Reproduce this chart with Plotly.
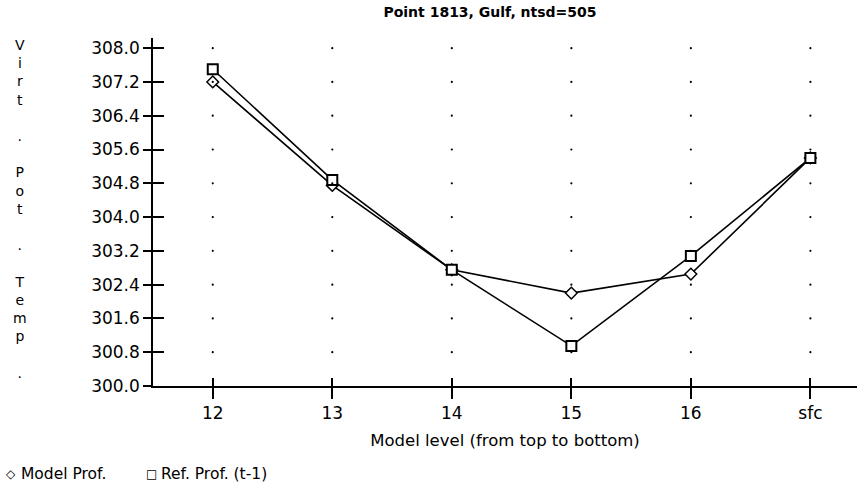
import plotly.graph_objects as go

levels = ["12", "13", "14", "15", "16", "sfc"]
model_prof = [307.2, 304.75, 302.75, 302.2, 302.65, 305.4]
ref_prof = [307.5, 304.88, 302.75, 300.95, 303.08, 305.4]
y_ticks = [300.0, 300.8, 301.6, 302.4, 303.2, 304.0, 304.8, 305.6, 306.4, 307.2, 308.0]
y_label_letters = ["V", "i", "r", "t", " ", ".", " ", "P", "o", "t", " ", ".", " ",
                   "T", "e", "m", "p", " ", "."]
legend_names = ["Model Prof.", "Ref. Prof. (t-1)"]
legend_glyphs = ["\u25c7", "\u25a1"]

FONT = "DejaVu Sans"
YR = [300.0, 308.24]
XR = [-0.5, 5.39]
W, H = 859, 485
ML, MR, MT, MB = 153, 2, 38, 99
PW, PH = W - ML - MR, H - MT - MB


def px(xp):
    return (xp - ML) / PW


def py(yp):
    return (H - MB - yp) / PH


fig = go.Figure()

# dotted grid: dots at tick intersections
gx, gy = [], []
for lv in levels:
    for yv in y_ticks[1:]:
        gx.append(lv)
        gy.append(yv)
fig.add_trace(go.Scatter(x=gx, y=gy, mode="markers", xaxis="x2", yaxis="y2",
                         marker=dict(size=2.2, color="black"), showlegend=False,
                         hoverinfo="skip"))

fig.add_trace(go.Scatter(x=levels, y=model_prof, mode="lines+markers", name=legend_names[0],
                         line=dict(color="black", width=1.6),
                         marker=dict(symbol="diamond", size=9, color="white",
                                     line=dict(color="black", width=1.5)),
                         showlegend=False))
fig.add_trace(go.Scatter(x=levels, y=ref_prof, mode="lines+markers", name=legend_names[1],
                         line=dict(color="black", width=1.6),
                         marker=dict(symbol="square", size=10, color="white",
                                     line=dict(color="black", width=2)),
                         showlegend=False))

axis_common = dict(showgrid=False, zeroline=False, tickcolor="black", tickwidth=1.5)

fig.update_layout(
    width=W, height=H,
    margin=dict(l=ML, r=MR, t=MT, b=MB),
    paper_bgcolor="white", plot_bgcolor="white",
    font=dict(family=FONT, color="black", size=17),
    title=dict(text="<b>Point 1813, Gulf, ntsd=505</b>", x=490 / W, xanchor="center",
               y=1 - 12 / H, yanchor="middle", font=dict(size=14, family=FONT)),
    xaxis=dict(type="category", categoryarray=levels, range=XR, ticks="outside", ticklen=11,
               showline=True, linecolor="black", linewidth=1.5, tickfont=dict(size=17),
               title=dict(text="Model level (from top to bottom)", font=dict(size=16.5), standoff=12),
               automargin=False, **axis_common),
    yaxis=dict(range=YR, tickvals=y_ticks, tickformat=".1f", ticks="outside", ticklen=8,
               showline=True, linecolor="black", linewidth=1.5, tickfont=dict(size=17),
               automargin=False, **axis_common),
    xaxis2=dict(type="category", categoryarray=levels, range=XR, overlaying="x", ticks="inside",
                ticklen=8, showticklabels=False, showline=False, **axis_common),
    yaxis2=dict(range=YR, tickvals=y_ticks, overlaying="y", ticks="inside", ticklen=11,
                showticklabels=False, showline=False, **axis_common),
    showlegend=False,
)

# vertical y-axis label
fig.add_annotation(text="<br>".join(y_label_letters), x=px(20), xref="paper", xanchor="center",
                   y=py(35), yref="paper", yanchor="top", showarrow=False,
                   font=dict(size=14, family=FONT))

# legend
leg_x = [11, 151]
for g, name, lx in zip(legend_glyphs, legend_names, leg_x):
    fig.add_annotation(text=g, x=px(lx), y=py(474), xref="paper", yref="paper",
                       xanchor="center", yanchor="middle", showarrow=False,
                       font=dict(size=12, family=FONT))
    fig.add_annotation(text=name, x=px(lx + 8), y=py(474), xref="paper", yref="paper",
                       xanchor="left", yanchor="middle", showarrow=False,
                       font=dict(size=15.5, family=FONT))

fig.write_html("out.html", config={"displayModeBar": False},
               post_script="document.body.style.margin='0';document.body.style.padding='0';")
